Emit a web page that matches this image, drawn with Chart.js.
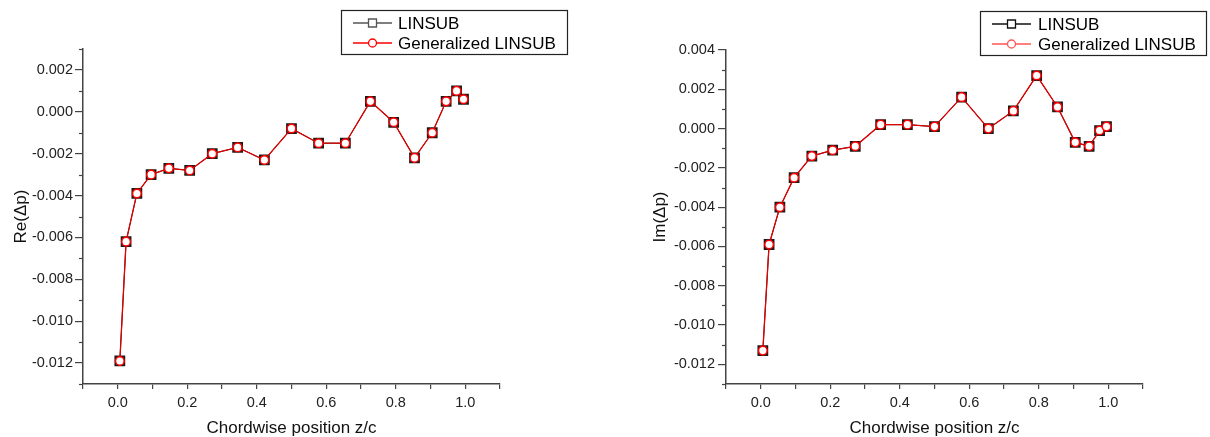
<!DOCTYPE html>
<html>
<head>
<meta charset="utf-8">
<script src="https://cdn.jsdelivr.net/npm/chart.js@4.4.0/dist/chart.umd.min.js"></script>
<style>
body { margin: 0; background: #fff; }
.box { float: left; width: 605px; height: 437px; }
</style>
</head>
<body>
<div class="box"><canvas id="reChart" width="605" height="437"></canvas></div>
<div class="box"><canvas id="imChart" width="605" height="437"></canvas></div>
<script>
// chordwise stations (same for both panels)
let chordPos = [0.006, 0.024, 0.055, 0.096, 0.147, 0.207, 0.272, 0.345, 0.422, 0.500,
                0.578, 0.655, 0.727, 0.794, 0.854, 0.905, 0.945, 0.975, 0.995];

let reLinsub = [-0.0119, -0.0062, -0.0039, -0.0030, -0.0027, -0.0028, -0.0020, -0.0017, -0.0023, -0.0008,
                -0.0015, -0.0015, 0.0005, -0.0005, -0.0022, -0.0010, 0.0005, 0.0010, 0.0006];
let reGeneralized = [-0.0119, -0.0062, -0.0039, -0.0030, -0.0027, -0.0028, -0.0020, -0.0017, -0.0023, -0.0008,
                     -0.0015, -0.0015, 0.0005, -0.0005, -0.0022, -0.0010, 0.0005, 0.0010, 0.0006];

let imLinsub = [-0.0113, -0.0059, -0.0040, -0.0025, -0.0014, -0.0011, -0.0009, 0.0002, 0.0002, 0.0001,
                0.0016, 0.0000, 0.0009, 0.0027, 0.0011, -0.0007, -0.0009, -0.0001, 0.0001];
let imGeneralized = [-0.0113, -0.0059, -0.0040, -0.0025, -0.0014, -0.0011, -0.0009, 0.0002, 0.0002, 0.0001,
                     0.0016, 0.0000, 0.0009, 0.0027, 0.0011, -0.0007, -0.0009, -0.0001, 0.0001];

let seriesNames = ['LINSUB', 'Generalized LINSUB'];

// tick positions and labels
let xTicks = [-0.1, 0, 0.1, 0.2, 0.3, 0.4, 0.5, 0.6, 0.7, 0.8, 0.9, 1.0, 1.1];
let xTickLabels = [0, 0.2, 0.4, 0.6, 0.8, 1.0];
let reYTicks = [-0.012, -0.010, -0.008, -0.006, -0.004, -0.002, 0, 0.002];
let imYTicks = [-0.012, -0.010, -0.008, -0.006, -0.004, -0.002, 0, 0.002, 0.004];

const FONT = 'Arial, "Liberation Sans", sans-serif';

function toPoints(ys) {
    return chordPos.map(function (x, i) { return { x: x, y: ys[i] }; });
}

// short minor ticks on the y axis, halfway between labelled ticks
const minorTicks = {
    id: 'minorTicks',
    afterDraw(chart) {
        let y = chart.scales.y;
        let ctx = chart.ctx;
        let x0 = chart.chartArea.left;
        ctx.save();
        ctx.strokeStyle = '#444';
        ctx.lineWidth = 1.2;
        let n = Math.round((y.max - y.min) / 0.001);
        for (let i = 0; i <= n; i++) {
            let v = y.min + i * 0.001;
            let k = Math.round(v * 1000);
            if (k % 2 === 0) continue;
            let py = Math.round(y.getPixelForValue(v)) + 0.5;
            ctx.beginPath();
            ctx.moveTo(x0 - 4, py);
            ctx.lineTo(x0, py);
            ctx.stroke();
        }
        ctx.restore();
    }
};

// boxed legend drawn partly over the plot, like the original
const boxLegend = {
    id: 'boxLegend',
    afterDraw(chart, args, opts) {
        let ctx = chart.ctx;
        ctx.save();
        ctx.fillStyle = '#fff';
        ctx.fillRect(opts.left, opts.top, opts.width, opts.height);
        ctx.strokeStyle = '#222';
        ctx.lineWidth = 1.2;
        ctx.strokeRect(opts.left + 0.5, opts.top + 0.5, opts.width, opts.height);
        ctx.font = '17px ' + FONT;
        ctx.textBaseline = 'middle';
        chart.data.datasets.forEach(function (ds, i) {
            let cy = opts.top + 13 + i * 20;
            let lx = opts.left + 12;
            ctx.strokeStyle = opts.lineColors[i];
            ctx.lineWidth = 1.3;
            ctx.beginPath();
            ctx.moveTo(lx, cy);
            ctx.lineTo(lx + 39, cy);
            ctx.stroke();
            ctx.fillStyle = '#fff';
            ctx.beginPath();
            if (ds.pointStyle === 'rect') {
                ctx.rect(lx + 15.5, cy - 4, 8, 8);
            } else {
                ctx.arc(lx + 19.5, cy, 4, 0, Math.PI * 2);
            }
            ctx.fill();
            ctx.stroke();
            ctx.fillStyle = '#000';
            ctx.fillText(ds.label, opts.left + opts.textOffset, cy + 1);
        });
        ctx.restore();
    }
};

function makeChart(id, yTitle, linsub, generalized, yMin, yMax, yTicks, cfg) {
    let ctx = document.getElementById(id).getContext('2d');
    return new Chart(ctx, {
        type: 'line',
        data: {
            datasets: [{
                label: seriesNames[0],
                data: toPoints(linsub),
                order: 2,
                borderColor: '#111',
                borderWidth: 1,
                pointStyle: 'rect',
                pointRadius: 6.2,
                pointHoverRadius: 6.2,
                pointBorderColor: '#1a1a1a',
                pointBorderWidth: 2,
                pointBackgroundColor: '#aaa'
            }, {
                label: seriesNames[1],
                data: toPoints(generalized),
                order: 1,
                borderColor: '#e00000',
                borderWidth: 1.3,
                pointStyle: 'circle',
                pointRadius: 4.3,
                pointHoverRadius: 4.3,
                pointBorderColor: '#f00',
                pointBorderWidth: 1.5,
                pointBackgroundColor: '#fff'
            }]
        },
        options: {
            responsive: false,
            animation: false,
            devicePixelRatio: 1,
            layout: { padding: { top: cfg.top, right: cfg.right, left: 0, bottom: 0 } },
            plugins: {
                legend: { display: false },
                tooltip: { enabled: false },
                boxLegend: cfg.legend
            },
            scales: {
                x: {
                    type: 'linear',
                    min: -0.1,
                    max: 1.1,
                    afterBuildTicks: function (scale) {
                        scale.ticks = xTicks.map(function (v) { return { value: v }; });
                    },
                    afterFit: function (scale) { scale.height = 53; },
                    border: { color: '#444', width: 1.5 },
                    grid: { drawOnChartArea: false, tickLength: 5, color: '#444', lineWidth: 1.2 },
                    ticks: {
                        autoSkip: false,
                        maxRotation: 0,
                        padding: 5,
                        color: '#222',
                        font: { size: 14.5, family: FONT },
                        callback: function (v) {
                            let show = xTickLabels.some(function (l) { return Math.abs(l - v) < 1e-9; });
                            return show ? Number(v).toFixed(1) : '';
                        }
                    },
                    title: {
                        display: true,
                        text: 'Chordwise position z/c',
                        color: '#111',
                        font: { size: 17, family: FONT, lineHeight: 1.0 },
                        padding: { top: 0, bottom: 0.5 }
                    }
                },
                y: {
                    type: 'linear',
                    min: yMin,
                    max: yMax,
                    afterBuildTicks: function (scale) {
                        scale.ticks = yTicks.map(function (v) { return { value: v }; });
                    },
                    afterFit: function (scale) { scale.width = cfg.yWidth; },
                    border: { color: '#444', width: 1.5 },
                    grid: { drawOnChartArea: false, tickLength: 8, color: '#444', lineWidth: 1.2 },
                    ticks: {
                        autoSkip: false,
                        padding: cfg.tickPad,
                        color: '#222',
                        font: { size: 14.5, family: FONT },
                        callback: function (v) { return Number(v).toFixed(3); }
                    },
                    title: {
                        display: true,
                        text: yTitle,
                        color: '#111',
                        font: { size: 17, family: FONT, lineHeight: 1.2 },
                        padding: { top: cfg.titlePad, bottom: 0 }
                    }
                }
            }
        },
        plugins: [minorTicks, boxLegend]
    });
}

window.onload = function () {
    makeChart('reChart', 'Re(\u0394p)', reLinsub, reGeneralized, -0.013, 0.003, reYTicks, {
        top: 49, right: 105, yWidth: 83, tickPad: 2, titlePad: 11.5,
        legend: { left: 341, top: 10, width: 226, height: 44, textOffset: 57, lineColors: ['#555', '#f00'] }
    });
    makeChart('imChart', 'Im(\u0394p)', imLinsub, imGeneralized, -0.013, 0.004, imYTicks, {
        top: 50, right: 67, yWidth: 121, tickPad: 3, titlePad: 45.4,
        legend: { left: 375, top: 11, width: 226, height: 44, textOffset: 58, lineColors: ['#111', '#ff5555'] }
    });
};
</script>
</body>
</html>
